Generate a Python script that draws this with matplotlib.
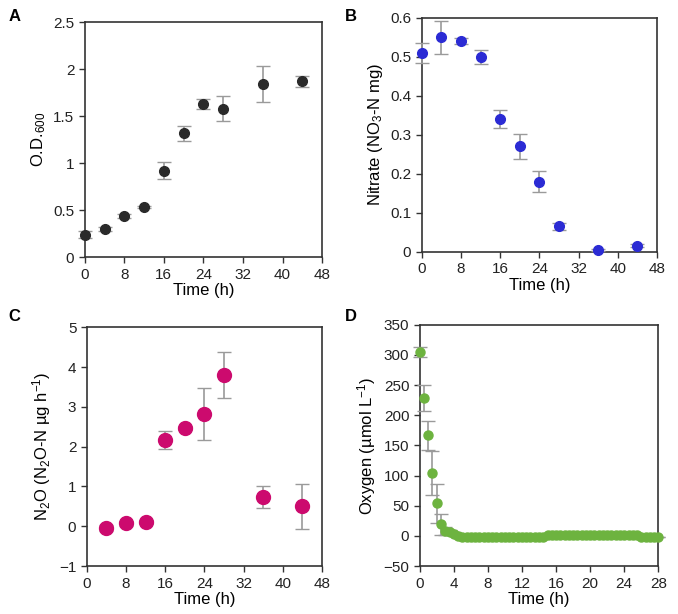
import numpy as np
import matplotlib
matplotlib.use('Agg')
import matplotlib.pyplot as plt

plt.rcParams['font.family'] = ['Liberation Sans', 'DejaVu Sans']
plt.rcParams['mathtext.fontset'] = 'custom'
plt.rcParams['mathtext.rm'] = 'Liberation Sans'
plt.rcParams['mathtext.it'] = 'Liberation Sans:italic'

# A - optical density
t_od = [0, 4, 8, 12, 16, 20, 24, 28, 36, 44]
od = [0.24, 0.30, 0.44, 0.53, 0.92, 1.32, 1.63, 1.58, 1.84, 1.87]
od_err = [0.04, 0.02, 0.02, 0.01, 0.09, 0.08, 0.05, 0.13, 0.19, 0.06]

# B - nitrate
t_no3 = [0, 4, 8, 12, 16, 20, 24, 28, 36, 44]
no3 = [0.51, 0.55, 0.54, 0.50, 0.34, 0.27, 0.18, 0.065, 0.005, 0.015]
no3_err = [0.025, 0.043, 0.008, 0.018, 0.023, 0.033, 0.027, 0.008, 0.003, 0.004]

# C - N2O
t_n2o = [4, 8, 12, 16, 20, 24, 28, 36, 44]
n2o = [-0.04, 0.08, 0.12, 2.17, 2.46, 2.82, 3.80, 0.74, 0.50]
n2o_err = [0.08, 0.06, 0.05, 0.22, 0.05, 0.65, 0.58, 0.27, 0.57]

# D - oxygen, every 0.5 h
t_o2 = np.arange(0, 28.01, 0.5)
o2 = [305, 229, 167, 104, 54, 19, 8, 6, 4, 0,
      -1, -1, -1, -1, -1, -1, -1, -1, -1, -1,
      -1, -1, -1, -1, -1, -1, -1, -1, -1, -1,
      2, 2, 2, 2, 2, 2, 2, 2, 2, 2,
      2, 2, 2, 2, 2, 2, 2, 2, 2, 2,
      2, 2, -1, -1, -1, -1, -1]
o2_err = [8, 22, 24, 36, 32, 17, 7, 4, 3, 1] + [0] * 47

err_col = '#9a9a9a'
spine_col = '#333333'

fig = plt.figure(figsize=(6.78, 6.14), dpi=100)
axA = fig.add_axes([0.125, 0.581, 0.350, 0.383])
axB = fig.add_axes([0.622, 0.590, 0.347, 0.381])
axC = fig.add_axes([0.128, 0.078, 0.347, 0.389])
axD = fig.add_axes([0.619, 0.078, 0.352, 0.393])


def style_ax(ax):
    for s in ax.spines.values():
        s.set_color(spine_col)
        s.set_linewidth(1.2)
    ax.tick_params(direction='out', length=4, width=1, colors=spine_col,
                   labelcolor='#222222', labelsize=11, top=False, right=False)


axA.errorbar(t_od, od, yerr=od_err, fmt='o', color='#2a2a2a', ms=7,
             ecolor=err_col, elinewidth=1.2, capsize=5, clip_on=False, zorder=3)
axA.set_xlim(0, 48)
axA.set_ylim(0, 2.5)
axA.set_xticks(range(0, 49, 8))
axA.set_yticks([0, 0.5, 1, 1.5, 2, 2.5])
axA.set_yticklabels(['0', '0.5', '1', '1.5', '2', '2.5'])
axA.set_xlabel('Time (h)', fontsize=12, labelpad=1)
axA.set_ylabel('O.D.$_{600}$', fontsize=12)
style_ax(axA)

axB.errorbar(t_no3, no3, yerr=no3_err, fmt='o', color='#2b2bd4', ms=7,
             ecolor=err_col, elinewidth=1.2, capsize=5, clip_on=False, zorder=3)
axB.set_xlim(0, 48)
axB.set_ylim(0, 0.6)
axB.set_xticks(range(0, 49, 8))
axB.set_yticks(np.arange(0, 0.61, 0.1))
axB.set_yticklabels(['0', '0.1', '0.2', '0.3', '0.4', '0.5', '0.6'])
axB.set_xlabel('Time (h)', fontsize=12, labelpad=1)
axB.set_ylabel('Nitrate (NO$_3$-N mg)', fontsize=12)
style_ax(axB)

axC.errorbar(t_n2o, n2o, yerr=n2o_err, fmt='o', color='#cc0a6e', ms=10,
             ecolor=err_col, elinewidth=1.2, capsize=5, clip_on=False, zorder=3)
axC.set_xlim(0, 48)
axC.set_ylim(-1, 5)
axC.set_xticks(range(0, 49, 8))
axC.set_yticks(range(-1, 6))
axC.set_xlabel('Time (h)', fontsize=12, labelpad=1)
axC.set_ylabel('N$_2$O (N$_2$O-N µg h$^{-1}$)', fontsize=12)
style_ax(axC)

axD.errorbar(t_o2, o2, yerr=o2_err, fmt='o', color='#6db33f', ms=6.5,
             ecolor=err_col, elinewidth=1.2, capsize=5, clip_on=False, zorder=3)
axD.set_xlim(0, 28)
axD.set_ylim(-50, 350)
axD.set_xticks(range(0, 29, 4))
axD.set_yticks(range(-50, 351, 50))
axD.set_xlabel('Time (h)', fontsize=12, labelpad=1)
axD.set_ylabel('Oxygen (µmol L$^{-1}$)', fontsize=12)
style_ax(axD)

for lbl, x, y in [('A', 0.012, 0.985), ('B', 0.508, 0.985),
                  ('C', 0.012, 0.497), ('D', 0.508, 0.497)]:
    fig.text(x, y, lbl, fontsize=12, fontweight='bold', va='top', ha='left')

fig.savefig('out.png', dpi=100)
